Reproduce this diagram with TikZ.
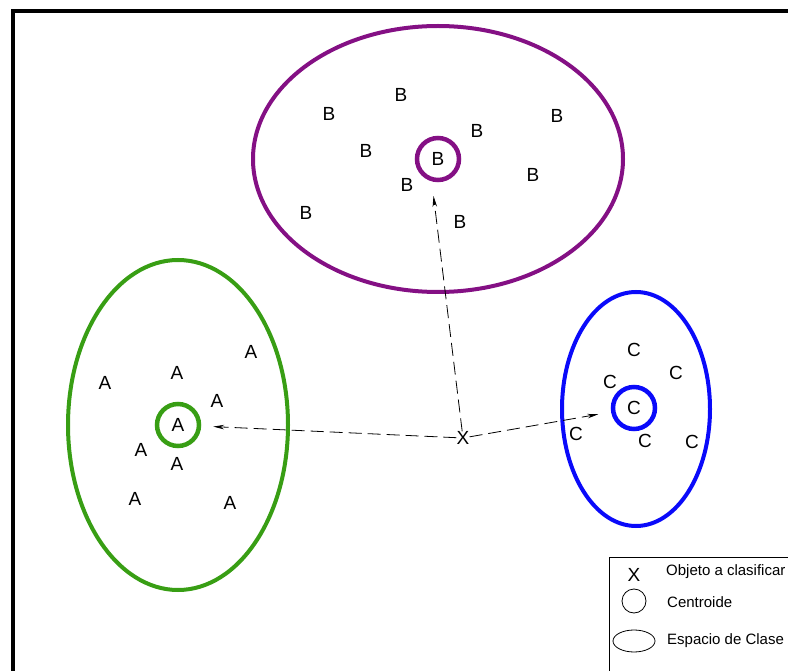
\documentclass[tikz,border=0pt]{standalone}
\usepackage{fontspec}
\setmainfont{Liberation Sans}
\usepackage{tikz}
\usetikzlibrary{arrows.meta}

\definecolor{morado}{RGB}{132,16,132}
\definecolor{verde}{RGB}{56,158,20}
\definecolor{azul}{RGB}{10,10,250}

\tikzset{
  letra/.style={inner sep=0pt, font=\fontsize{19}{21}\selectfont},
  centroide/.style={circle, draw, line width=4.5pt, minimum size=42pt, inner sep=0pt,
    font=\fontsize{19}{21}\selectfont},
  espacio/.style={line width=4pt},
  flecha/.style={dash pattern=on 13pt off 6pt, line width=0.8pt,
    -{Stealth[length=11pt,width=4.5pt]}},
  leyenda/.style={inner sep=0pt, anchor=west, font=\fontsize{15}{17}\selectfont}
}

\begin{document}
\begin{tikzpicture}[x=1pt,y=-1pt]
    \useasboundingbox (0,0) rectangle (788,671);
    \clip (0,0) rectangle (788,671);

    % marco
    \draw[line width=4pt] (13,700) -- (13,11.5) -- (820,11.5);

    % espacios de clase
    \draw[espacio,morado] (438,159) ellipse [x radius=185pt, y radius=133pt];
    \draw[espacio,verde] (178,425) ellipse [x radius=110pt, y radius=165pt];
    \draw[espacio,azul] (636,409) ellipse [x radius=74pt, y radius=117pt];

    % centroides
    \node[centroide,morado,text=black] (cB) at (438,159) {B};
    \node[centroide,verde,text=black] (cA) at (178,425) {A};
    \node[centroide,azul,text=black] (cC) at (634,408) {C};
    \coordinate (pB) at (433.5,196);

    % clase B
    \foreach \px/\py in {329/114, 401/95, 366/151, 477/131, 557/116,
                         407/185, 533/175, 306/213, 460/222}
        \node[letra] at (\px,\py) {B};

    % clase A
    \foreach \px/\py in {105/383, 177/373, 251/352, 217/401, 141/450,
                         177/464, 135/499, 230/503}
        \node[letra] at (\px,\py) {A};

    % clase C
    \foreach \px/\py in {634/350, 610/382, 676/373, 576/434, 645/441, 692/442}
        \node[letra] at (\px,\py) {C};

    % objeto
    \node[letra] (X) at (463,438) {X};

    % distancias
    \draw[flecha] (X) -- (cA) [shorten >=12pt];
    \draw[flecha] (X) -- (pB);
    \draw[flecha] (X) -- (cC) [shorten >=13pt];

    % leyenda
    \draw[line width=0.8pt] (609,700) -- (609,557.5) -- (820,557.5);
    \node[letra] (lX) at (634,575) {X};
    \node[leyenda] (tX) at (666,572) {Objeto a clasificar};
    \draw[line width=0.8pt] (634,601) circle (12pt);
    \node[leyenda] (tC) at (667,602) {Centroide};
    \draw[line width=0.8pt] (634,641) ellipse [x radius=21pt, y radius=11pt];
    \node[leyenda] (tE) at (667,641) {Espacio de Clase};
\end{tikzpicture}
\end{document}
